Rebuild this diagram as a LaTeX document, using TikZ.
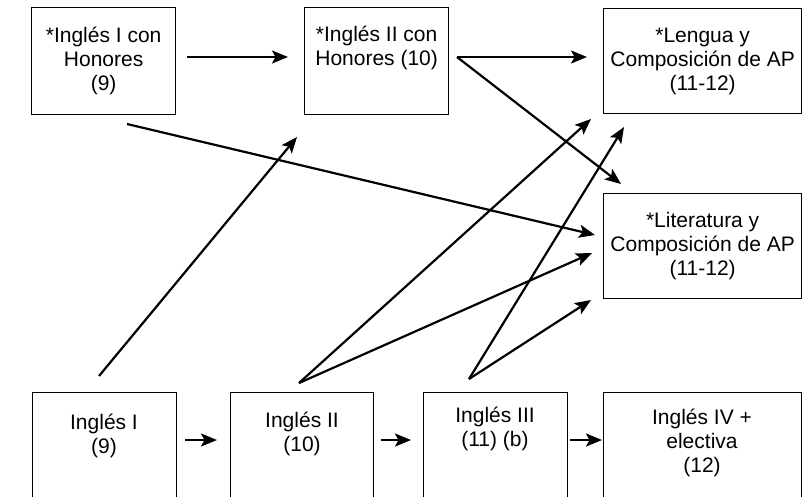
\documentclass[tikz,border=0pt]{standalone}
\usepackage{fontspec}
\setmainfont{Liberation Sans}
\usetikzlibrary{arrows.meta}
\tikzset{
    box/.style={draw, line width=1.3pt, anchor=north west, inner sep=0pt, align=center, font=\fontsize{21}{24}\selectfont},
    txt/.style={inner sep=0pt, align=center, font=\fontsize{21}{24}\selectfont},
    arr/.style={line width=2.2pt, -{Stealth[length=16pt, width=13pt, inset=3.5pt]}}
}

\begin{document}
\begin{tikzpicture}[x=1pt, y=-1pt]
    \useasboundingbox (0,0) rectangle (810,496);
    \clip (0,0) rectangle (810,496);

    % Honors track
    \node[box, minimum width=144, minimum height=107] (hon1) at (31,7) {*Inglés I con\\Honores\\(9)};
    \node[box, minimum width=144, minimum height=107] (hon2) at (304,7) {*Inglés II con\\Honores (10)\\\strut};
    \node[box, minimum width=198, minimum height=105] (lang) at (603,8) {*Lengua y\\Composición de AP\\(11-12)};
    \node[box, minimum width=198, minimum height=105] (lit) at (603,193) {*Literatura y\\Composición de AP\\(11-12)};

    % Regular track (boxes run off the bottom)
    \node[box, minimum width=144, minimum height=140] (eng1) at (32,392) {};
    \node[box, minimum width=143, minimum height=140] (eng2) at (230,392) {};
    \node[box, minimum width=144, minimum height=140] (eng3) at (423,392) {};
    \node[box, minimum width=198, minimum height=140] (eng4) at (603,392) {};
    \node[txt] (eng1txt) at (104,436) {Inglés I\\(9)};
    \node[txt] (eng2txt) at (302,434) {Inglés II\\(10)};
    \node[txt] (eng3txt) at (495,429) {Inglés III\\(11) (b)};
    \node[txt] (eng4txt) at (702,443) {Inglés IV +\\electiva\\(12)};

    % Arrow ends
    \coordinate (hon1r) at (187,57);   \coordinate (hon2l) at (288,57);
    \coordinate (hon2r) at (457,57);   \coordinate (langl) at (587,57);
    \coordinate (litc) at (621,184);
    \coordinate (hon1b) at (127,124);  \coordinate (litl) at (595,235);
    \coordinate (eng1t) at (99,376);   \coordinate (hon2b) at (297,137);
    \coordinate (eng2t) at (299,383);  \coordinate (langa) at (591,119);
    \coordinate (litb) at (592,253);
    \coordinate (eng3t) at (469,379);  \coordinate (langb) at (624,127);
    \coordinate (litd) at (591,300);
    \coordinate (eng1r) at (185,440);  \coordinate (eng2l) at (217,440);
    \coordinate (eng2r) at (381,440);  \coordinate (eng3l) at (411,440);
    \coordinate (eng3r) at (570,440);  \coordinate (eng4l) at (602,440);

    % Arrows
    \draw[arr] (hon1r) -- (hon2l);
    \draw[arr] (hon2r) -- (langl);
    \draw[arr] (hon2r) -- (litc);
    \draw[arr] (hon1b) -- (litl);
    \draw[arr] (eng1t) -- (hon2b);
    \draw[arr] (eng2t) -- (langa);
    \draw[arr] (eng2t) -- (litb);
    \draw[arr] (eng3t) -- (langb);
    \draw[arr] (eng3t) -- (litd);
    \draw[arr] (eng1r) -- (eng2l);
    \draw[arr] (eng2r) -- (eng3l);
    \draw[arr] (eng3r) -- (eng4l);
\end{tikzpicture}
\end{document}
